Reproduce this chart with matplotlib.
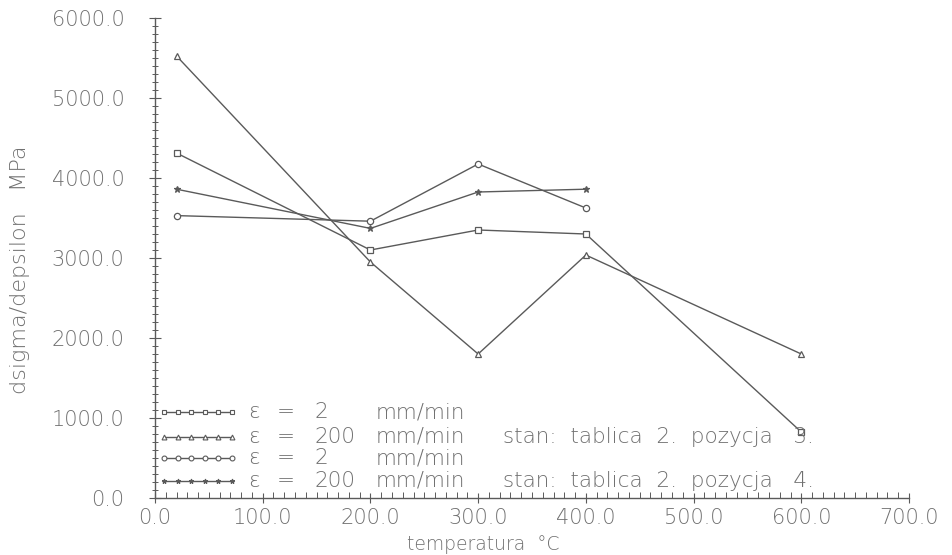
import numpy as np
import matplotlib
matplotlib.use("Agg")
import matplotlib.pyplot as plt
from matplotlib.ticker import MultipleLocator, FormatStrFormatter

# temperatures [°C] and moduli dsigma/depsilon [MPa]
temp_p3 = [20, 200, 300, 400, 600]
temp_p4 = [20, 200, 300, 400]
sq_slow_p3 = [4312, 3100, 3350, 3300, 825]     # ε = 2 mm/min,   pozycja 3
tri_fast_p3 = [5525, 2950, 1800, 3037, 1800]   # ε = 200 mm/min, pozycja 3
circ_slow_p4 = [3530, 3460, 4175, 3625]        # ε = 2 mm/min,   pozycja 4
star_fast_p4 = [3860, 3370, 3825, 3860]        # ε = 200 mm/min, pozycja 4

legend_rates = ["2", "200", "2", "200"]
legend_state = ["", "stan:  tablica  2.  pozycja   3.", "", "stan:  tablica  2.  pozycja   4."]

INK = "#5a5a5a"
TXT = "#707070"
FONT = ["DejaVu Sans"]
plt.rcParams["font.family"] = FONT
WEIGHT = 200

fig = plt.figure(figsize=(9.52, 5.55), dpi=100)
ax = fig.add_axes([155 / 952, 1 - 498 / 555, 754 / 952, 480 / 555])

series = [
    (temp_p3, sq_slow_p3, "s", "white"),
    (temp_p3, tri_fast_p3, "^", "white"),
    (temp_p4, circ_slow_p4, "o", "white"),
    (temp_p4, star_fast_p4, "*", INK),
]
for x, y, m, fc in series:
    ax.plot(x, y, color=INK, lw=1.0, marker=m, ms=4.5, mfc=fc, mec=INK, mew=0.9)

ax.set_xlim(0, 700)
ax.set_ylim(0, 6000)
for s in ("top", "right"):
    ax.spines[s].set_visible(False)
for s in ("left", "bottom"):
    ax.spines[s].set_color(INK)
    ax.spines[s].set_linewidth(1.0)

ax.xaxis.set_major_locator(MultipleLocator(100))
ax.xaxis.set_minor_locator(MultipleLocator(10))
ax.yaxis.set_major_locator(MultipleLocator(1000))
ax.yaxis.set_minor_locator(MultipleLocator(100))
ax.xaxis.set_major_formatter(FormatStrFormatter("%.1f"))
ax.yaxis.set_major_formatter(FormatStrFormatter("%.1f"))

ax.tick_params(axis="x", which="major", direction="inout", length=7, width=0.8,
               color=INK, labelcolor=TXT, labelsize=15, pad=4)
ax.tick_params(axis="x", which="minor", direction="in", length=4, width=0.7, color=INK)
ax.tick_params(axis="y", which="major", direction="inout", length=8, width=0.8,
               color=INK, labelcolor=TXT, labelsize=15, pad=18)
ax.tick_params(axis="y", which="minor", direction="inout", length=4, width=0.7, color=INK)
for lab in ax.get_xticklabels() + ax.get_yticklabels():
    lab.set_fontweight(WEIGHT)

fig.text(483 / 952, 1 - 545 / 555, "temperatura  °C", ha="center", va="center",
         fontsize=13.5, color=TXT, fontweight=WEIGHT)
fig.text(20 / 952, 1 - 270 / 555, "dsigma/depsilon   MPa", ha="center", va="center",
         rotation=90, fontsize=16, color=TXT, fontweight=WEIGHT)

# legend block in the lower left corner
rows_y = [412, 437, 458, 481]
markers = ["s", "^", "o", "*"]
for yy, m, rate, state in zip(rows_y, markers, legend_rates, legend_state):
    fy = 1 - yy / 555
    fc = INK if m == "*" else "white"
    fig.add_artist(plt.Line2D(np.linspace(164 / 952, 232 / 952, 6), [fy] * 6,
                              color=INK, lw=1.0, marker=m, ms=3.5, mfc=fc, mec=INK,
                              mew=0.8, transform=fig.transFigure))
    kw = dict(va="center", fontsize=15.5, color=TXT, fontweight=WEIGHT)
    fig.text(248 / 952, fy, "ε", ha="left", **kw)
    fig.text(286 / 952, fy, "=", ha="center", **kw)
    fig.text(314 / 952, fy, rate, ha="left", **kw)
    fig.text(376 / 952, fy, "mm/min", ha="left", **kw)
    if state:
        fig.text(503 / 952, fy, state, ha="left", **kw)

fig.savefig("out.png", dpi=100, facecolor="white")
